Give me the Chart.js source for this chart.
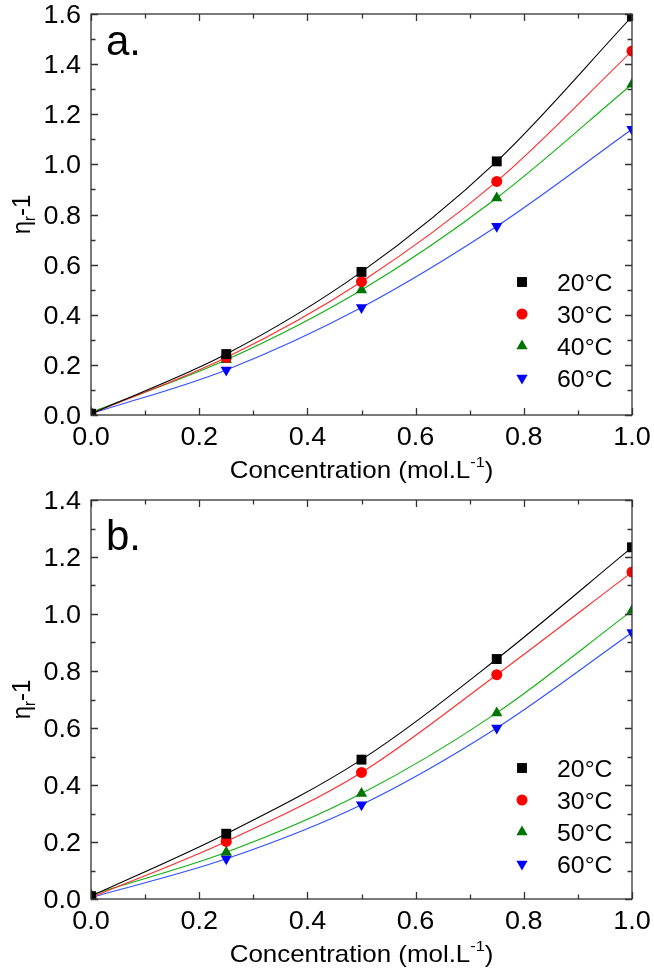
<!DOCTYPE html>
<html>
<head>
<meta charset="utf-8">
<script src="https://cdn.jsdelivr.net/npm/chart.js@4/dist/chart.umd.min.js"></script>
<style>
  html, body { margin: 0; padding: 0; background: #fff; }
  canvas { display: block; }
</style>
</head>
<body>
<canvas id="chartA" width="654" height="487"></canvas>
<canvas id="chartB" width="654" height="487"></canvas>
<script>
// ---------------- data ----------------
const concentration = [0, 0.25, 0.5, 0.75, 1.0];

// panel a
const aLegend = ['20°C', '30°C', '40°C', '60°C'];
const aEta20 = [0.005, 0.243, 0.571, 1.012, 1.590];
const aEta30 = [0.005, 0.229, 0.532, 0.932, 1.452];
const aEta40 = [0.010, 0.220, 0.499, 0.866, 1.320];
const aEta60 = [0.005, 0.180, 0.429, 0.753, 1.140];

// panel b
const bLegend = ['20°C', '30°C', '50°C', '60°C'];
const bEta20 = [0.010, 0.229, 0.489, 0.842, 1.234];
const bEta30 = [0.005, 0.202, 0.444, 0.787, 1.147];
const bEta50 = [0.015, 0.164, 0.370, 0.653, 1.012];
const bEta60 = [0.005, 0.141, 0.331, 0.600, 0.935];

// tick labels
const xTickLabels = ['0.0', '0.2', '0.4', '0.6', '0.8', '1.0'];
const aYTickLabels = ['0.0', '0.2', '0.4', '0.6', '0.8', '1.0', '1.2', '1.4', '1.6'];
const bYTickLabels = ['0.0', '0.2', '0.4', '0.6', '0.8', '1.0', '1.2', '1.4'];

// ---------------- styles ----------------
const FONT = '"Liberation Sans", Arial, sans-serif';
const SX = 1.08; // horizontal stretch of text
const seriesStyle = [
  { marker: '#000000', line: '#000000', pointStyle: 'rect', radius: 7, rotation: 0 },
  { marker: '#ff0000', line: '#ff2a2a', pointStyle: 'circle', radius: 5.5, rotation: 0 },
  { marker: '#007400', line: '#10b010', pointStyle: 'triangle', radius: 6.5, rotation: 0 },
  { marker: '#0000ff', line: '#3050ff', pointStyle: 'triangle', radius: 6.5, rotation: 180 }
];

function txt(ctx, s, x, y, align, baseline, size, sx) {
  ctx.save();
  ctx.translate(x, y);
  ctx.scale(sx, 1);
  ctx.font = size + 'px ' + FONT;
  ctx.textAlign = align;
  ctx.textBaseline = baseline;
  ctx.fillStyle = '#000';
  ctx.fillText(s, 0, 0);
  ctx.restore();
}

const framePlugin = {
  id: 'frame',
  afterDraw(chart, args, o) {
    const ctx = chart.ctx;
    const { left, right, top, bottom } = chart.chartArea;
    const xs = chart.scales.x, ys = chart.scales.y;
    ctx.save();
    // frame
    ctx.strokeStyle = '#333';
    ctx.lineWidth = 1.3;
    ctx.strokeRect(left, top, right - left, bottom - top);
    // ticks (inward, all 4 sides)
    const xv = o.xTicks.map(Number), yv = o.yTicks.map(Number);
    const tick = (vals, isX) => {
      for (let i = 0; i < vals.length; i++) {
        const list = [[vals[i], 7]];
        if (i < vals.length - 1) list.push([(vals[i] + vals[i + 1]) / 2, 4.5]);
        for (const [v, len] of list) {
          ctx.beginPath();
          if (isX) {
            const p = Math.round(xs.getPixelForValue(v)) + 0.5;
            ctx.moveTo(p, bottom); ctx.lineTo(p, bottom - len);
            ctx.moveTo(p, top); ctx.lineTo(p, top + len);
          } else {
            const p = Math.round(ys.getPixelForValue(v)) + 0.5;
            ctx.moveTo(left, p); ctx.lineTo(left + len, p);
            ctx.moveTo(right, p); ctx.lineTo(right - len, p);
          }
          ctx.stroke();
        }
      }
    };
    tick(xv, true);
    tick(yv, false);
    // tick labels
    o.xTicks.forEach(l => txt(ctx, l, xs.getPixelForValue(Number(l)), bottom + 30, 'center', 'alphabetic', 25, SX));
    o.yTicks.forEach(l => txt(ctx, l, left - 10, ys.getPixelForValue(Number(l)) + 9, 'right', 'alphabetic', 25, SX));

    // x title with superscript
    ctx.fillStyle = '#000';
    const main = 'Concentration (mol.L', sup = '-1', end = ')';
    ctx.font = '24px ' + FONT; const w1 = ctx.measureText(main).width, w3 = ctx.measureText(end).width;
    ctx.font = '15px ' + FONT; const w2 = ctx.measureText(sup).width;
    const tw = (w1 + w2 + w3) * SX;
    let x0 = (left + right) / 2 - tw / 2;
    const by = bottom + 63;
    txt(ctx, main, x0, by, 'left', 'alphabetic', 24, SX); x0 += w1 * SX;
    txt(ctx, sup, x0, by - 11, 'left', 'alphabetic', 15, SX); x0 += w2 * SX;
    txt(ctx, end, x0, by, 'left', 'alphabetic', 24, SX);

    // y title (rotated) eta_r - 1
    ctx.save();
    ctx.translate(30, (top + bottom) / 2);
    ctx.rotate(-Math.PI / 2);
    ctx.scale(1, SX);
    ctx.fillStyle = '#000';
    ctx.font = '24px ' + FONT; const e1 = ctx.measureText('η').width, e3 = ctx.measureText('-1').width;
    ctx.font = '15px ' + FONT; const e2 = ctx.measureText('r').width;
    let yx = -(e1 + e2 + e3) / 2;
    ctx.textAlign = 'left'; ctx.textBaseline = 'alphabetic';
    ctx.font = '24px ' + FONT; ctx.fillText('η', yx, 0); yx += e1;
    ctx.font = '15px ' + FONT; ctx.fillText('r', yx, 5); yx += e2;
    ctx.font = '24px ' + FONT; ctx.fillText('-1', yx, 0);
    ctx.restore();

    // panel letter
    txt(ctx, o.letter, left + 15, top + o.letterDy, 'left', 'alphabetic', 42, 1.0);

    // legend
    chart.data.datasets.forEach((ds, i) => {
      const yy = top + o.legendTop + i * o.legendStep;
      ctx.save();
      ctx.fillStyle = ds.pointBackgroundColor;
      ctx.strokeStyle = ds.pointBackgroundColor;
      Chart.helpers.drawPoint(ctx, { pointStyle: ds.pointStyle, rotation: ds.pointRotation, radius: ds.pointRadius, borderWidth: 0 }, left + 431, yy);
      ctx.restore();
      txt(ctx, ds.label, left + 466, yy + 8.5, 'left', 'alphabetic', 23, SX);
    });
    ctx.restore();
  }
};

function makePanel(id, series, legend, yTicks, letter, padTop, padBottom, letterDy) {
  const datasets = series.map((vals, i) => {
    const s = seriesStyle[i];
    return {
      label: legend[i],
      data: concentration.map((c, j) => ({ x: c, y: vals[j] })),
      borderColor: s.line,
      borderWidth: 1.1,
      backgroundColor: s.marker,
      pointBackgroundColor: s.marker,
      pointBorderColor: s.marker,
      pointBorderWidth: 0,
      pointStyle: s.pointStyle,
      pointRotation: s.rotation,
      pointRadius: s.radius,
      cubicInterpolationMode: 'monotone',
      fill: false,
      clip: 0
    };
  });
  return new Chart(document.getElementById(id), {
    type: 'line',
    data: { datasets },
    options: {
      responsive: false,
      animation: false,
      devicePixelRatio: 1,
      layout: { padding: { left: 91, right: 22, top: padTop, bottom: padBottom } },
      plugins: {
        legend: { display: false },
        tooltip: { enabled: false },
        frame: { xTicks: xTickLabels, yTicks: yTicks, letter: letter, letterDy: letterDy, legendTop: 268, legendStep: 32 }
      },
      scales: {
        x: { type: 'linear', display: false, min: 0, max: 1 },
        y: { type: 'linear', display: false, min: 0, max: Number(yTicks[yTicks.length - 1]) }
      }
    },
    plugins: [framePlugin]
  });
}

makePanel('chartA', [aEta20, aEta30, aEta40, aEta60], aLegend, aYTickLabels, 'a.', 14, 72, 41);
makePanel('chartB', [bEta20, bEta30, bEta50, bEta60], bLegend, bYTickLabels, 'b.', 13, 75, 50);
</script>
</body>
</html>
